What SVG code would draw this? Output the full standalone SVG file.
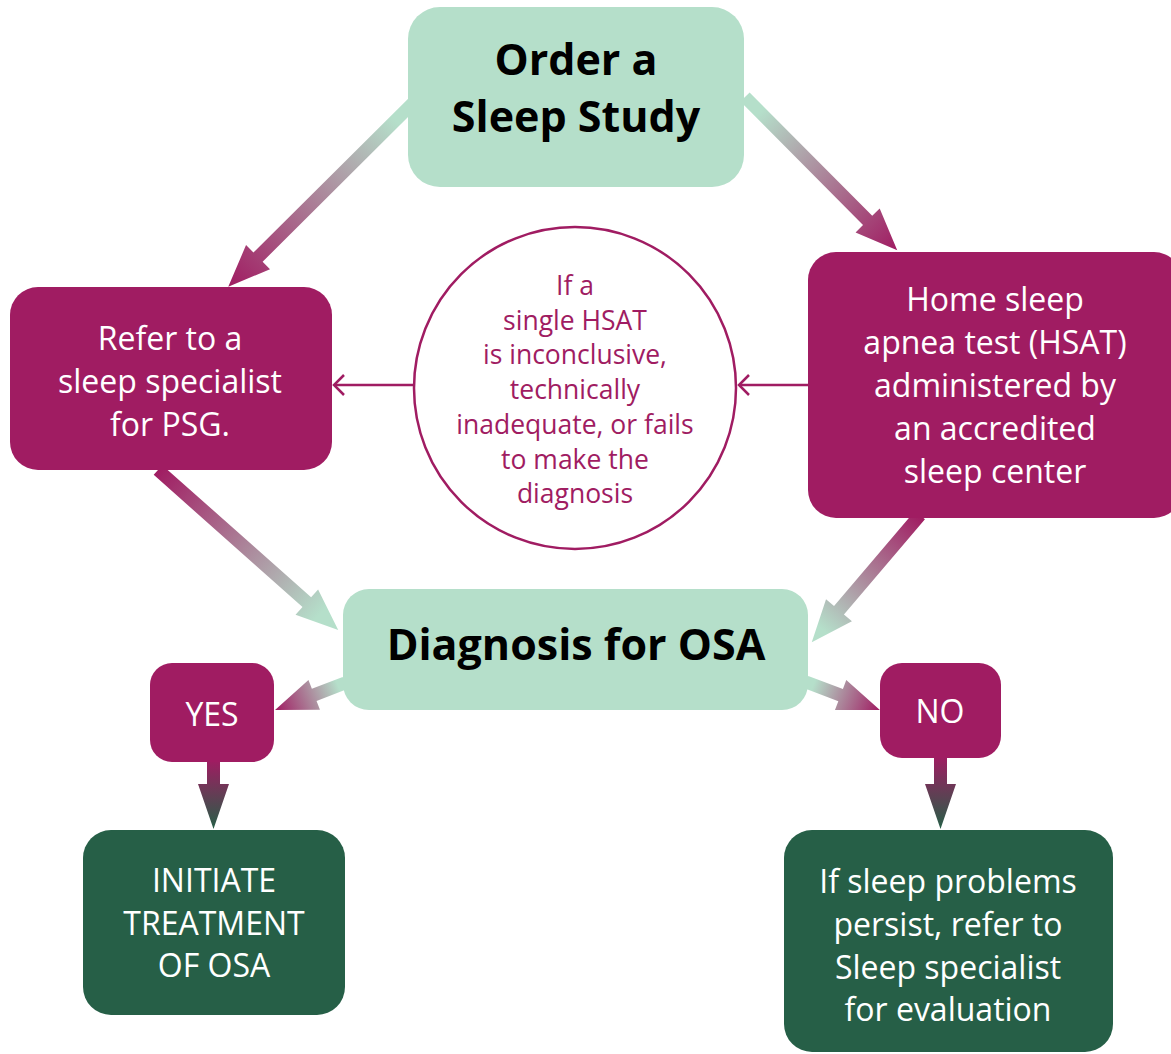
<svg xmlns="http://www.w3.org/2000/svg" width="1171" height="1054" viewBox="0 0 1171 1054">
<defs>
<style>
.lg{fill:#b5dfca}
.mg{fill:#a01c62}
.dg{fill:#265f47}
.t{font-family:"Open Sans","Liberation Sans",sans-serif;text-anchor:middle}
.w{fill:#ffffff;font-size:32px}
.h{fill:#000000;font-weight:bold}
.c{fill:#a01c62;font-size:26.5px}
.thin{stroke:#a01c62;stroke-width:2.5;fill:none}
</style>
<linearGradient id="gm" x1="0" y1="0" x2="1" y2="0">
<stop offset="0.1" stop-color="#b5dfca"/>
<stop offset="1" stop-color="#a01c62"/>
</linearGradient>
<linearGradient id="mg" x1="0" y1="0" x2="1" y2="0">
<stop offset="0" stop-color="#a01c62"/>
<stop offset="0.9" stop-color="#b5dfca"/>
</linearGradient>
<linearGradient id="md" x1="0" y1="0" x2="0" y2="1">
<stop offset="0" stop-color="#a01c62"/>
<stop offset="1" stop-color="#265f47"/>
</linearGradient>
</defs>
<rect width="1171" height="1054" fill="#ffffff"/>
<g id="connectors">
<polygon fill="url(#gm)" transform="translate(414,102) rotate(135.15)" points="0,-6.5 220,-6.5 220,-17 262,0 220,17 220,6.5 0,6.5"/>
<polygon fill="url(#gm)" transform="translate(745,97) rotate(45.19)" points="0,-6.5 174,-6.5 174,-17 216,0 174,17 174,6.5 0,6.5"/>
<polygon fill="url(#mg)" transform="translate(158,470) rotate(41.6)" points="0,-6.5 199,-6.5 199,-17 241,0 199,17 199,6.5 0,6.5"/>
<polygon fill="url(#mg)" transform="translate(920,515) rotate(130.4)" points="0,-6.5 125,-6.5 125,-17 167,0 125,17 125,6.5 0,6.5"/>
<polygon fill="url(#gm)" transform="translate(345,683) rotate(158.9)" points="0,-6.5 33,-6.5 33,-16 75,0 33,16 33,6.5 0,6.5"/>
<polygon fill="url(#gm)" transform="translate(806,682) rotate(20.7)" points="0,-6.5 37,-6.5 37,-16 79,0 37,16 37,6.5 0,6.5"/>
<polygon fill="url(#md)" points="207,760 220,760 220,784 229,784 213.5,829 198,784 207,784"/>
<polygon fill="url(#md)" points="934,756 947,756 947,784 956,784 940.5,829 925,784 934,784"/>
<line class="thin" x1="413" y1="385" x2="334" y2="385"/>
<polyline class="thin" points="344,375 334,385 344,395"/>
<line class="thin" x1="808" y1="385" x2="739" y2="385"/>
<polyline class="thin" points="749,375 739,385 749,395"/>
</g>
<g id="order">
<rect class="lg" x="408" y="7" width="336" height="180" rx="32"/>
<text class="t h" x="576" y="75" font-size="43">Order a</text>
<text class="t h" x="576" y="132" font-size="43">Sleep Study</text>
</g>
<g id="refer">
<rect class="mg" x="10" y="287" width="322" height="183" rx="28"/>
<text class="t w" x="170" y="350">Refer to a</text>
<text class="t w" x="170" y="393">sleep specialist</text>
<text class="t w" x="170" y="436">for PSG.</text>
</g>
<g id="hsat">
<rect class="mg" x="808" y="252" width="374" height="266" rx="28"/>
<text class="t w" x="995" y="311">Home sleep</text>
<text class="t w" x="995" y="354">apnea test (HSAT)</text>
<text class="t w" x="995" y="397">administered by</text>
<text class="t w" x="995" y="440">an accredited</text>
<text class="t w" x="995" y="483">sleep center</text>
</g>
<g id="circle">
<circle cx="575" cy="388" r="161" fill="#ffffff" stroke="#a01c62" stroke-width="2.5"/>
<text class="t c" x="575" y="295">If a</text>
<text class="t c" x="575" y="330">single HSAT</text>
<text class="t c" x="575" y="364">is inconclusive,</text>
<text class="t c" x="575" y="399">technically</text>
<text class="t c" x="575" y="434">inadequate, or fails</text>
<text class="t c" x="575" y="469">to make the</text>
<text class="t c" x="575" y="503">diagnosis</text>
</g>
<g id="diagnosis">
<rect class="lg" x="343" y="589" width="465" height="121" rx="26"/>
<text class="t h" x="576" y="660" font-size="43">Diagnosis for OSA</text>
</g>
<g id="yes">
<rect class="mg" x="150" y="663" width="124" height="99" rx="22"/>
<text class="t w" x="212" y="726" font-size="29">YES</text>
</g>
<g id="no">
<rect class="mg" x="880" y="663" width="121" height="95" rx="22"/>
<text class="t w" x="940" y="723" font-size="29">NO</text>
</g>
<g id="initiate">
<rect class="dg" x="83" y="830" width="262" height="185" rx="28"/>
<text class="t w" x="214" y="892">INITIATE</text>
<text class="t w" x="214" y="935">TREATMENT</text>
<text class="t w" x="214" y="977">OF OSA</text>
</g>
<g id="persist">
<rect class="dg" x="784" y="830" width="329" height="222" rx="28"/>
<text class="t w" x="948" y="893">If sleep problems</text>
<text class="t w" x="948" y="936">persist, refer to</text>
<text class="t w" x="948" y="979">Sleep specialist</text>
<text class="t w" x="948" y="1021">for evaluation</text>
</g>
</svg>
